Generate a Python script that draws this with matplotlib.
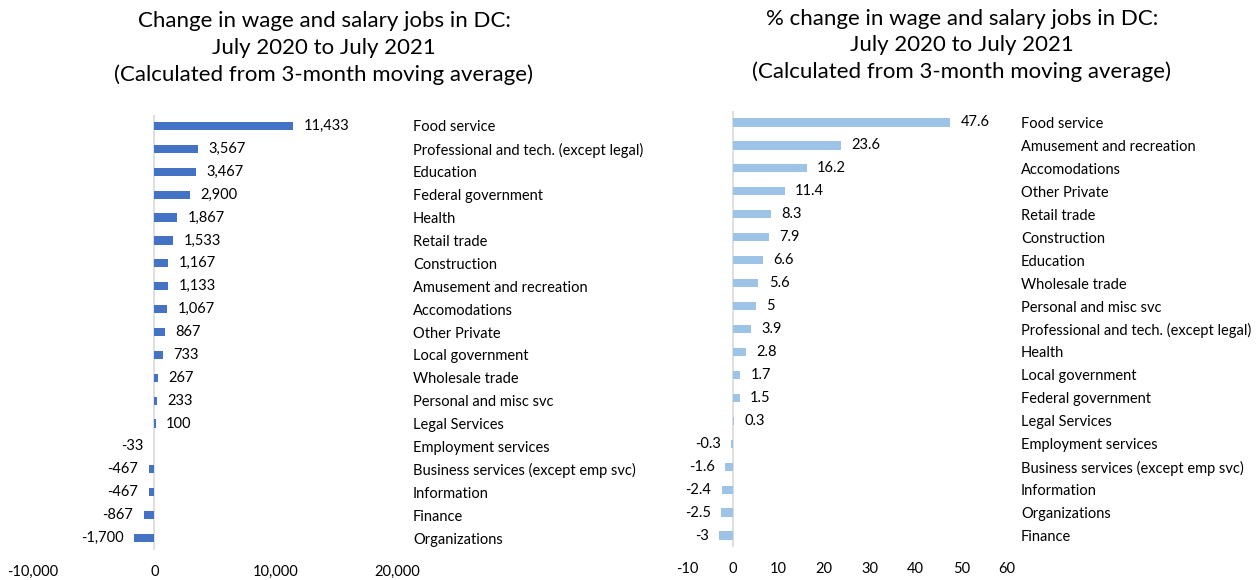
import matplotlib
matplotlib.use("Agg")
import matplotlib.pyplot as plt
from matplotlib.ticker import FuncFormatter

plt.rcParams['font.family'] = ['Lato', 'DejaVu Sans']

# left panel: change in jobs
jobs_cats = ["Food service", "Professional and tech. (except legal)", "Education",
             "Federal government", "Health", "Retail trade", "Construction",
             "Amusement and recreation", "Accomodations", "Other Private",
             "Local government", "Wholesale trade", "Personal and misc svc",
             "Legal Services", "Employment services",
             "Business services (except emp svc)", "Information", "Finance",
             "Organizations"]
jobs_vals = [11433, 3567, 3467, 2900, 1867, 1533, 1167, 1133, 1067, 867,
             733, 267, 233, 100, -33, -467, -467, -867, -1700]

# right panel: % change
pct_cats = ["Food service", "Amusement and recreation", "Accomodations",
            "Other Private", "Retail trade", "Construction", "Education",
            "Wholesale trade", "Personal and misc svc",
            "Professional and tech. (except legal)", "Health",
            "Local government", "Federal government", "Legal Services",
            "Employment services", "Business services (except emp svc)",
            "Information", "Organizations", "Finance"]
pct_vals = [47.6, 23.6, 16.2, 11.4, 8.3, 7.9, 6.6, 5.6, 5, 3.9, 2.8, 1.7,
            1.5, 0.3, -0.3, -1.6, -2.4, -2.5, -3]

W, H = 1258, 580
fig = plt.figure(figsize=(W / 100, H / 100), dpi=100)


def panel(rect, cats, vals, color, xlim, xticks, fmt, ypad):
    ax = fig.add_axes(rect)
    y = list(range(len(cats)))
    bars = ax.barh(y, vals, height=0.36, color=color)
    ax.set_ylim(len(cats) - 0.5, -0.5)
    ax.set_xlim(*xlim)
    ax.set_xticks(xticks)
    ax.xaxis.set_major_formatter(FuncFormatter(lambda v, p: fmt(v)))
    ax.set_yticks(y)
    ax.set_yticklabels(cats)
    ax.yaxis.tick_right()
    ax.tick_params(axis='y', length=0, pad=ypad, labelsize=10.5, colors='#000000')
    ax.tick_params(axis='x', length=0, pad=11, labelsize=10.5)
    for s in ax.spines.values():
        s.set_visible(False)
    ax.axvline(0, color='#d9d9d9', lw=1.2, zorder=0)
    ax.bar_label(bars, labels=[fmt(v) for v in vals], padding=7.5, fontsize=10.5)
    return ax


def ax_rect(x0, x1, y0, y1):
    return [x0 / W, 1 - y1 / H, (x1 - x0) / W, (y1 - y0) / H]


panel(ax_rect(33, 397, 114.5, 549.5), jobs_cats, jobs_vals, '#4472c4',
      (-10000, 20000), [-10000, 0, 10000, 20000], lambda v: f"{v:,.0f}", 11.5)
panel(ax_rect(687, 1007, 111, 547), pct_cats, pct_vals, '#9dc3e6',
      (-10, 60), [-10, 0, 10, 20, 30, 40, 50, 60], lambda v: f"{v:g}", 10)

fig.text(324 / W, 1 - 48 / H,
         "Change in wage and salary jobs in DC:\nJuly 2020 to July 2021\n(Calculated from 3-month moving average)",
         ha='center', va='center', fontsize=16, linespacing=1.42)
fig.text(962 / W, 1 - 45.5 / H,
         "% change in wage and salary jobs in DC:\nJuly 2020 to July 2021\n(Calculated from 3-month moving average)",
         ha='center', va='center', fontsize=16, linespacing=1.38)

fig.savefig("out.png", dpi=100)
